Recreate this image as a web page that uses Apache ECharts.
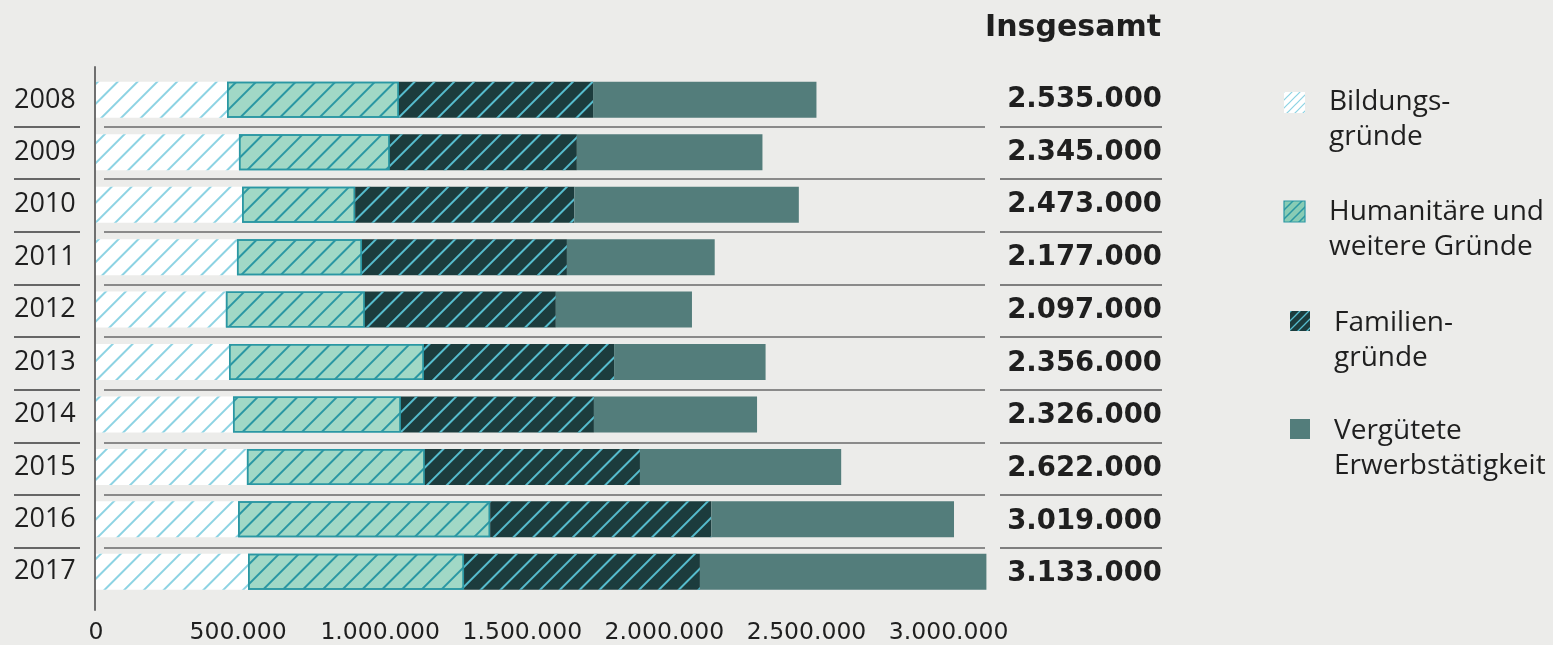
<!DOCTYPE html>
<html><head><meta charset="utf-8">
<script src="https://cdn.jsdelivr.net/npm/echarts@6/dist/echarts.min.js"></script>
<style>html,body{margin:0;padding:0;background:#ececea;}#c{width:1553px;height:645px;}</style>
</head><body><div id="c"></div>
<script>
const years = ['2008','2009','2010','2011','2012','2013','2014','2015','2016','2017'];
const bildung    = [461000, 503000, 514000, 496000, 457000, 468000, 482000, 531000, 500000, 535000];
const humanitaer = [605000, 531000, 398000, 440000, 489000, 686000, 591000, 626000, 887000, 760000];
const familie    = [683000, 658000, 771000, 721000, 672000, 669000, 679000, 757000, 778000, 830000];
const erwerb     = [786000, 653000, 790000, 520000, 479000, 533000, 574000, 708000, 854000, 1008000];
const totals     = [2535000, 2345000, 2473000, 2177000, 2097000, 2356000, 2326000, 2622000, 3019000, 3133000];
const seriesNames = ['Bildungs-\ngründe', 'Humanitäre und\nweitere Gründe', 'Familien-\ngründe', 'Vergütete\nErwerbstätigkeit'];

const FONT = '"Open Sans", sans-serif';
const WIDE = '"DejaVu Sans", sans-serif';
const TXT = '#1f1f1f';
function de(n){ return String(n).replace(/\B(?=(\d{3})+(?!\d))/g, '.'); }

function pattern(bg, line, s, lw){
  const c = document.createElement('canvas');
  c.width = s; c.height = s;
  const g = c.getContext('2d');
  if (bg) { g.fillStyle = bg; g.fillRect(0,0,s,s); }
  g.strokeStyle = line; g.lineWidth = lw;
  g.beginPath();
  g.moveTo(0, s); g.lineTo(s, 0);
  g.moveTo(-s/2, s/2); g.lineTo(s/2, -s/2);
  g.moveTo(s/2, s*1.5); g.lineTo(s*1.5, s/2);
  g.stroke();
  return {image: c, repeat: 'repeat'};
}

const decalBase = {symbol:'rect', symbolSize:1, dashArrayX:[1,0], dashArrayY:[1.1,11.9], rotation: -Math.PI/4};

const gridTop = 73.6, gridH = 526.9;
const chart = echarts.init(document.getElementById('c'));
const catAxis = (idx, extra) => Object.assign({type:'category', data: years, inverse:true, gridIndex: idx,
  axisLine:{show:false}, axisTick:{show:false}, axisLabel:{show:false}, splitLine:{show:false}}, extra||{});
const sepLine = c => ({show:true, showMinLine:false, showMaxLine:false, lineStyle:{color:c, width:1.6}});
const hiddenX = idx => ({type:'value', gridIndex: idx, min:0, max:1, show:false});

chart.setOption({
  backgroundColor: '#ececea',
  animation: false,
  title: {text:'Insgesamt', right: 387, top: 8, textStyle:{fontFamily: WIDE, fontWeight:'bold', fontSize: 30, color: TXT}},
  grid: [
    {left: 96, top: gridTop, width: 891.4, height: gridH},
    {left: 104, top: gridTop, width: 881, height: gridH},
    {left: 14, top: gridTop, width: 66, height: gridH},
    {left: 1000, top: gridTop, width: 162, height: gridH},
    {left: 95, top: 67, width: 10, height: 543}
  ],
  xAxis: [
    {type:'value', gridIndex:0, min:0, max:3136500, interval:500000,
     axisLine:{show:false}, axisTick:{show:false}, splitLine:{show:false},
     axisLabel:{showMaxLabel:false, margin: 23, fontFamily: WIDE, fontSize: 23.5, color: TXT, formatter: v => de(v)}},
    hiddenX(1), hiddenX(2), hiddenX(3), hiddenX(4)
  ],
  yAxis: [
    catAxis(0, {axisLabel:{show:true, align:'left', margin: 82, fontFamily: FONT, fontSize: 27, color: TXT}}),
    catAxis(1, {splitLine: sepLine('#6a6a6a')}),
    catAxis(2, {splitLine: sepLine('#3a3a3a')}),
    catAxis(3, {splitLine: sepLine('#5a5a5a'), position:'right',
      axisLabel:{show:true, inside:true, margin: 0, fontFamily: WIDE, fontWeight:'bold', fontSize: 27.5, color: TXT,
        formatter: (v, i) => de(totals[i])}}),
    {type:'value', gridIndex:4, min:0, max:1, axisLine:{show:true, lineStyle:{color:'#6f6f6f', width:2}},
     axisTick:{show:false}, axisLabel:{show:false}, splitLine:{show:false}}
  ],
  series: [
    {name: seriesNames[0], type:'bar', stack:'t', barWidth: 36, data: bildung,
     itemStyle:{color:'#ffffff', decal: Object.assign({}, decalBase, {color:'#8dd3e3'})}},
    {name: seriesNames[1], type:'bar', stack:'t', barWidth: 36, data: humanitaer,
     itemStyle:{color:'#a1d8c6', borderColor:'#2a97a3', borderWidth:1.5, decal: Object.assign({}, decalBase, {color:'#2a97a3'})}},
    {name: seriesNames[2], type:'bar', stack:'t', barWidth: 36, data: familie,
     itemStyle:{color:'#1c3c3d', decal: Object.assign({}, decalBase, {color:'#56bccd'})}},
    {name: seriesNames[3], type:'bar', stack:'t', barWidth: 36, data: erwerb,
     itemStyle:{color:'#537d7b'}}
  ],
  graphic: [
    {type:'rect', shape:{x:1284, y:92, width:21, height:21}, style:{fill: pattern('#ffffff', '#8dd3e3', 8, 1.2)}},
    {type:'rect', shape:{x:1284, y:201, width:21, height:21}, style:{fill: pattern('#88ccb5', '#2a97a3', 9, 1.5), stroke:'#2a97a3', lineWidth:1.2}},
    {type:'rect', shape:{x:1290, y:311, width:20, height:20}, style:{fill: pattern('#1c3c3d', '#56bccd', 9, 1.3)}},
    {type:'rect', shape:{x:1290, y:419, width:20, height:20}, style:{fill: '#537d7b'}},
    {type:'text', x:1329, y:102-17.5, style:{text: seriesNames[0], font: '28px ' + FONT, fill: TXT, lineHeight: 35, verticalAlign:'top'}},
    {type:'text', x:1329, y:212-17.5, style:{text: seriesNames[1], font: '28px ' + FONT, fill: TXT, lineHeight: 35, verticalAlign:'top'}},
    {type:'text', x:1334, y:323-17.5, style:{text: seriesNames[2], font: '28px ' + FONT, fill: TXT, lineHeight: 35, verticalAlign:'top'}},
    {type:'text', x:1334, y:431-17.5, style:{text: seriesNames[3], font: '28px ' + FONT, fill: TXT, lineHeight: 35, verticalAlign:'top'}}
  ]
});
</script></body></html>
